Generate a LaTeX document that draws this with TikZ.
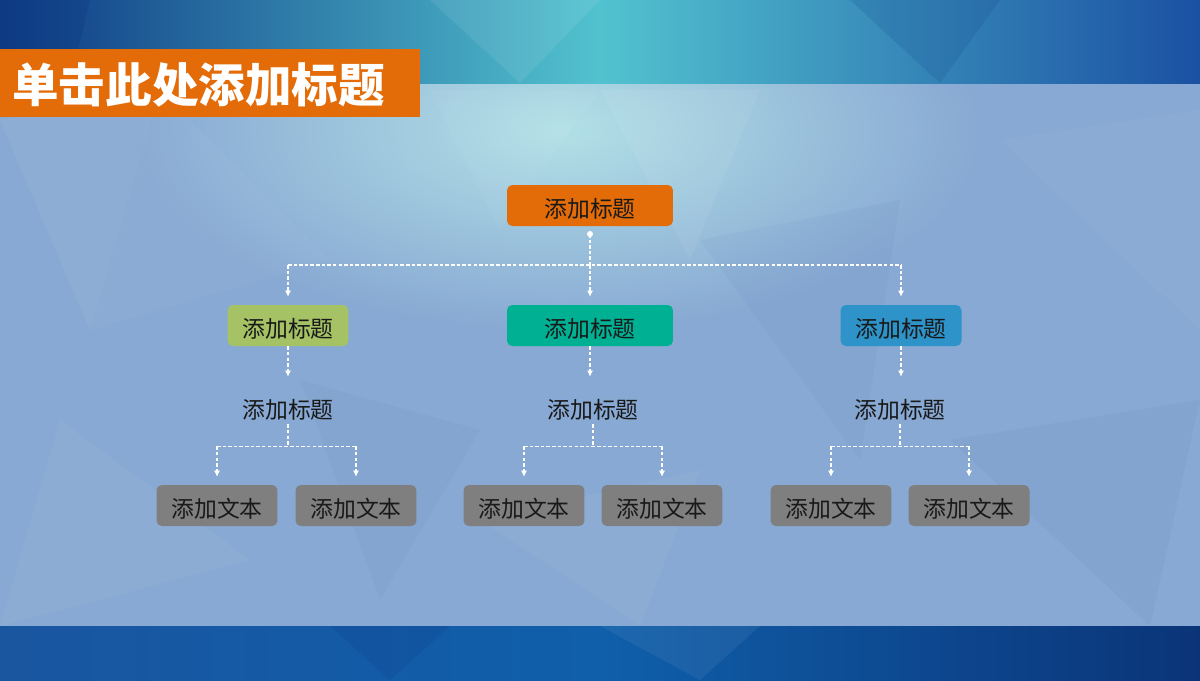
\documentclass[tikz,border=0pt]{standalone}
\usepackage{fontspec}
\newfontfamily\cjk{Noto Sans CJK SC}
\usetikzlibrary{arrows.meta,positioning,calc}
\definecolor{bgmain}{HTML}{88A9D3}
\definecolor{bgglow}{HTML}{B2E0E6}
\definecolor{bandnavy}{HTML}{0E3A84}
\definecolor{bandteal}{HTML}{52C2CF}
\definecolor{bandblue}{HTML}{1B51A3}
\definecolor{footleft}{HTML}{1A55A0}
\definecolor{footmid}{HTML}{0F5FAA}
\definecolor{footright}{HTML}{0B3478}
\definecolor{orangebar}{HTML}{E36C09}
\definecolor{greenbox}{HTML}{A5C264}
\definecolor{tealbox}{HTML}{00B093}
\definecolor{bluebox}{HTML}{2E93C9}
\definecolor{graybox}{HTML}{7F7F7F}
\tikzset{
  box/.style={rounded corners=3pt, minimum width=2.42cm, minimum height=0.82cm,
    inner sep=0pt, text height=14pt, text depth=0pt, text=black!90,
    font=\cjk\fontsize{13}{15}\selectfont},
  plain/.style={minimum height=0.56cm, inner sep=0pt, text=black!90,
    font=\cjk\fontsize{13}{15}\selectfont},
  link/.style={white, line width=0.6pt, dash pattern=on 2pt off 1.2pt},
  arrowed/.style={-{Latex[length=3.5pt,width=3.5pt]}, shorten >=4.5pt},
  facet/.style={fill=white, fill opacity=#1},
  facet/.default=0.05
}
\begin{document}
\begin{tikzpicture}[x=0.02cm, y=-0.02cm]
\useasboundingbox (0,0) rectangle (1200,680);
% background
\fill[bgmain] (0,0) rectangle (1200,680);
\shade[inner color=bgglow, outer color=bgmain] (560,130) ellipse (420 and 200);
\fill[facet] (0,120) -- (160,90) -- (90,330) -- cycle;
\fill[facet=0.03] (90,330) -- (160,90) -- (330,260) -- cycle;
\fill[facet=0.06] (600,90) -- (760,90) -- (690,260) -- cycle;
\fill[facet=0.04] (430,90) -- (600,90) -- (500,230) -- cycle;
\fill[facet=0.03] (1000,140) -- (1200,110) -- (1200,330) -- cycle;
\fill[bandnavy, fill opacity=0.035] (700,240) -- (900,200) -- (860,460) -- cycle;
\fill[facet=0.04] (60,420) -- (250,560) -- (0,626) -- cycle;
\fill[bandnavy, fill opacity=0.04] (950,440) -- (1200,400) -- (1150,626) -- cycle;
\fill[facet=0.04] (480,520) -- (700,470) -- (640,626) -- cycle;
\fill[bandnavy, fill opacity=0.03] (300,380) -- (480,430) -- (380,600) -- cycle;
% top band
\shade[left color=bandnavy, right color=bandblue, middle color=bandteal] (0,0) rectangle (1200,83);
\fill[bandnavy, fill opacity=0.35] (0,0) -- (90,0) -- (70,83) -- (0,83) -- cycle;
\fill[facet=0.08] (430,0) -- (600,0) -- (520,83) -- cycle;
\fill[bandnavy, fill opacity=0.15] (850,0) -- (1000,0) -- (940,83) -- cycle;
% bottom band
\shade[left color=footleft, right color=footright, middle color=footmid] (0,626) rectangle (1200,680);
\fill[facet=0.06] (600,626) -- (760,626) -- (700,680) -- cycle;
\fill[bandnavy, fill opacity=0.2] (330,626) -- (450,626) -- (390,680) -- cycle;
% title bar
\fill[orangebar] (0,49) rectangle (420,117);
\node[anchor=west, inner sep=0pt, text=white, font=\cjk\bfseries\fontsize{26.5}{30}\selectfont]
  (title) at (12,85) {单击此处添加标题};
% tree
\node[box, fill=orangebar, minimum width=3.32cm] (top) at (590,205.5) {添加标题};
\node[box, fill=greenbox] (la) at (288,325.5) {添加标题};
\node[box, fill=tealbox, minimum width=3.32cm] (lb) at (590,325.5) {添加标题};
\node[box, fill=bluebox] (lc) at (901,325.5) {添加标题};
\node[plain] (ta) at (288,410) {添加标题};
\node[plain] (tb) at (593,410) {添加标题};
\node[plain] (tc) at (900,410) {添加标题};
\node[box, fill=graybox] (a1) at (217,505.5) {添加文本};
\node[box, fill=graybox] (a2) at (356,505.5) {添加文本};
\node[box, fill=graybox] (b1) at (524,505.5) {添加文本};
\node[box, fill=graybox] (b2) at (662,505.5) {添加文本};
\node[box, fill=graybox] (c1) at (831,505.5) {添加文本};
\node[box, fill=graybox] (c2) at (969,505.5) {添加文本};
% connectors
\coordinate (dot) at (590,234);
\coordinate (bus) at (590,265);
\fill[white] (dot) circle (1.7pt);
\draw[link] (dot) -- (bus);
\draw[link] (la.north |- bus) -- (lc.north |- bus);
\foreach \n in {a,b,c}{
  \draw[link, arrowed] (l\n.north |- bus) -- (l\n.north);
  \draw[link, arrowed, shorten >=10.8pt] (l\n.south) -- (l\n.south |- t\n.north);
  \coordinate (s\n) at ($(t\n.south)+(0,22)$);
  \draw[link] (t\n.south) -- (s\n);
  \draw[link] (\n1.north |- s\n) -- (\n2.north |- s\n);
  \draw[link, arrowed] (\n1.north |- s\n) -- (\n1.north);
  \draw[link, arrowed] (\n2.north |- s\n) -- (\n2.north);
}
\end{tikzpicture}
\end{document}
